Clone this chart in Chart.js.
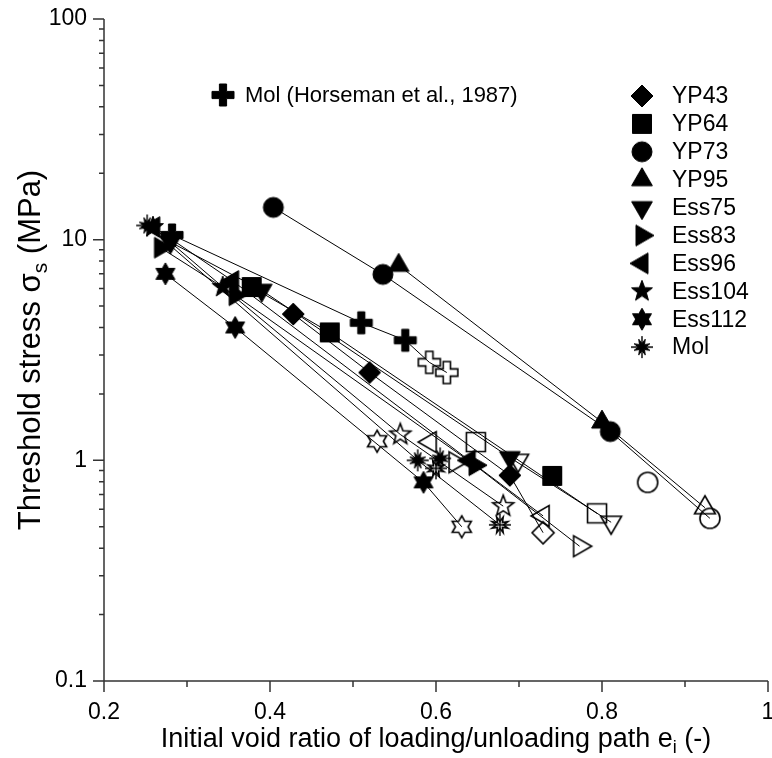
<!DOCTYPE html>
<html>
<head>
<meta charset="utf-8">
<title>Threshold stress vs initial void ratio</title>
<script src="https://cdn.jsdelivr.net/npm/chart.js@4/dist/chart.umd.min.js"></script>
<style>
  html, body { margin: 0; padding: 0; background: #fff; }
</style>
</head>
<body>
<canvas id="chart" width="772" height="758"></canvas>
<script>
// Series shown in the right-hand legend, in legend order
const seriesNames = ['YP43', 'YP64', 'YP73', 'YP95', 'Ess75', 'Ess83', 'Ess96', 'Ess104', 'Ess112', 'Mol'];
const seriesSymbols = ['diamond', 'square', 'circle', 'triUp', 'triDown', 'triRight', 'triLeft', 'star5', 'star6', 'burst'];

// e_i, sigma_s (MPa) and filled flag (1 = filled, 0 = open); null splits the connecting line
const eYP43 = [0.428, 0.52, 0.689, 0.729];
const sYP43 = [4.6, 2.5, 0.855, 0.47];
const fYP43 = [1, 1, 1, 0];

const eYP64 = [0.378, 0.472, 0.794, null, 0.648, null, 0.74];
const sYP64 = [6.1, 3.8, 0.575, null, 1.21, null, 0.85];
const fYP64 = [1, 1, 0, null, 0, null, 1];

const eYP73 = [0.404, 0.536, 0.81, 0.93, null, 0.855];
const sYP73 = [14, 6.96, 1.35, 0.546, null, 0.795];
const fYP73 = [1, 1, 1, 0, null, 0];

const eYP95 = [0.555, 0.80, 0.924];
const sYP95 = [7.65, 1.49, 0.61];
const fYP95 = [1, 1, 0];

const eEss75 = [0.28, 0.39, 0.689, 0.811, null, 0.699];
const sEss75 = [9.75, 5.9, 1.03, 0.524, null, 1.0];
const fEss75 = [1, 1, 1, 0, null, 0];

const eEss83 = [0.268, 0.358, 0.647, 0.773, null, 0.623];
const sEss83 = [9.2, 5.6, 0.95, 0.408, null, 0.98];
const fEss83 = [1, 1, 1, 0, null, 0];

const eEss96 = [0.26, 0.355, 0.64, 0.729, null, 0.593];
const sEss96 = [11.4, 6.5, 1.0, 0.56, null, 1.21];
const fEss96 = [1, 1, 1, 0, null, 0];

const eEss104 = [0.259, 0.343, 0.557, 0.681];
const sEss104 = [11.4, 6.1, 1.31, 0.62];
const fEss104 = [1, 1, 0, 0];

const eEss112 = [0.274, 0.358, 0.585, 0.631, null, 0.529];
const sEss112 = [7.0, 4.0, 0.795, 0.50, null, 1.22];
const fEss112 = [1, 1, 1, 0, null, 0];

const eMol = [0.252, 0.578, 0.677, null, 0.605, null, 0.60];
const sMol = [11.6, 1.0, 0.51, null, 1.02, null, 0.92];
const fMol = [1, 1, 0, null, 1, null, 0];

// Mol data from Horseman et al. (1987)
const eHorseman = [0.282, 0.51, 0.563, 0.592, 0.613];
const sHorseman = [10.5, 4.2, 3.5, 2.78, 2.5];
const fHorseman = [1, 1, 1, 0, 0];

// Axis ticks
const xMajorTicks = [0.2, 0.4, 0.6, 0.8, 1.0];
const xTickLabels = ['0.2', '0.4', '0.6', '0.8', '1'];
const yMajorTicks = [0.1, 1, 10, 100];
const yTickLabels = ['0.1', '1', '10', '100'];

const seriesE = [eYP43, eYP64, eYP73, eYP95, eEss75, eEss83, eEss96, eEss104, eEss112, eMol];
const seriesS = [sYP43, sYP64, sYP73, sYP95, sEss75, sEss83, sEss96, sEss104, sEss112, sMol];
const seriesF = [fYP43, fYP64, fYP73, fYP95, fEss75, fEss83, fEss96, fEss104, fEss112, fMol];

const FONT = '"Liberation Sans", Arial, Helvetica, sans-serif';

// Draw one marker symbol onto a small canvas, used as a Chart.js pointStyle
function makeMarker(kind, filled) {
    const c = document.createElement('canvas');
    c.width = 32;
    c.height = 32;
    const g = c.getContext('2d');
    g.translate(16, 16);
    g.strokeStyle = '#000';
    g.fillStyle = '#000';
    g.lineWidth = filled ? 1 : 1.6;

    const poly = pts => {
        pts.forEach(([px, py], i) => i ? g.lineTo(px, py) : g.moveTo(px, py));
        g.closePath();
    };
    const star = (n, ro, ri, rot) => {
        const pts = [];
        for (let i = 0; i < 2 * n; i++) {
            const a = rot + i * Math.PI / n;
            const r = i % 2 ? ri : ro;
            pts.push([r * Math.sin(a), -r * Math.cos(a)]);
        }
        poly(pts);
    };
    const triangle = rot => {
        const pts = [];
        for (let i = 0; i < 3; i++) {
            const a = rot + i * 2 * Math.PI / 3;
            pts.push([12 * Math.sin(a), -12 * Math.cos(a)]);
        }
        poly(pts);
    };

    g.beginPath();
    switch (kind) {
        case 'diamond': poly([[0, -11], [11, 0], [0, 11], [-11, 0]]); break;
        case 'square': poly([[-9.5, -9.5], [9.5, -9.5], [9.5, 9.5], [-9.5, 9.5]]); break;
        case 'circle': g.arc(0, 0, 10, 0, Math.PI * 2); break;
        case 'triUp': triangle(0); break;
        case 'triDown': triangle(Math.PI); break;
        case 'triRight': triangle(Math.PI / 2); break;
        case 'triLeft': triangle(-Math.PI / 2); break;
        case 'star5': star(5, 11, 4.6, 0); break;
        case 'star6': star(6, 11, 6.3, 0); break;
        case 'burst': star(8, 8.5, 3.5, Math.PI / 8); break;
        case 'plus': {
            const w = 3.6, l = 11;
            poly([[-w, -l], [w, -l], [w, -w], [l, -w], [l, w], [w, w], [w, l], [-w, l], [-w, w], [-l, w], [-l, -w], [-w, -w]]);
            break;
        }
    }
    if (filled) g.fill();
    g.stroke();

    if (kind === 'burst') {
        g.beginPath();
        g.lineWidth = 1.4;
        g.moveTo(-11, 0); g.lineTo(11, 0);
        g.moveTo(0, -11); g.lineTo(0, 11);
        g.stroke();
    }
    return c;
}

const markers = {};
seriesSymbols.concat(['plus']).forEach(k => {
    markers[k] = { f: makeMarker(k, true), o: makeMarker(k, false) };
});

function buildSeries(label, kind, e, s, f) {
    return {
        label: label,
        data: e.map((x, i) => ({ x: x, y: s[i] })),
        pointStyle: f.map(v => v === null ? false : (v ? markers[kind].f : markers[kind].o)),
        pointRadius: 10,
        showLine: true,
        spanGaps: false,
        borderColor: '#000',
        borderWidth: 1,
        backgroundColor: '#000'
    };
}

const datasets = seriesNames.map((name, i) =>
    buildSeries(name, seriesSymbols[i], seriesE[i], seriesS[i], seriesF[i]));
datasets.push(buildSeries('Mol (Horseman et al., 1987)', 'plus', eHorseman, sHorseman, fHorseman));

// Tick marks, axis lines, titles with subscripts, and the two legends
const decorPlugin = {
    id: 'decor',
    afterDraw(chart) {
        const { ctx, chartArea: a, scales: { x, y } } = chart;
        ctx.save();

        // axis lines and tick marks
        ctx.strokeStyle = '#333';
        ctx.lineWidth = 1.5;
        ctx.beginPath();
        ctx.moveTo(a.left, a.top);
        ctx.lineTo(a.left, a.bottom);
        ctx.lineTo(a.right, a.bottom);
        xMajorTicks.forEach((v, i) => {
            const px = x.getPixelForValue(v);
            ctx.moveTo(px, a.bottom);
            ctx.lineTo(px, a.bottom + 11);
            if (i < xMajorTicks.length - 1) {
                const pm = x.getPixelForValue((v + xMajorTicks[i + 1]) / 2);
                ctx.moveTo(pm, a.bottom);
                ctx.lineTo(pm, a.bottom + 6);
            }
        });
        yMajorTicks.forEach((v, i) => {
            const py = y.getPixelForValue(v);
            ctx.moveTo(a.left - 11, py);
            ctx.lineTo(a.left, py);
            if (i < yMajorTicks.length - 1) {
                for (let k = 2; k <= 9; k++) {
                    const pk = y.getPixelForValue(v * k);
                    ctx.moveTo(a.left - 5, pk);
                    ctx.lineTo(a.left, pk);
                }
            }
        });
        ctx.stroke();

        ctx.fillStyle = '#000';
        ctx.textBaseline = 'alphabetic';
        ctx.textAlign = 'left';

        const drawParts = (parts, cx, cy) => {
            let total = 0;
            parts.forEach(p => { ctx.font = p[1]; total += ctx.measureText(p[0]).width; });
            let px = cx - total / 2;
            parts.forEach(p => {
                ctx.font = p[1];
                ctx.fillText(p[0], px, cy + p[2]);
                px += ctx.measureText(p[0]).width;
            });
        };

        // x axis title with subscript i
        const xFont = '27px ' + FONT;
        const xSub = '18px ' + FONT;
        drawParts([['Initial void ratio of loading/unloading path e', xFont, 0], ['i', xSub, 6], [' (-)', xFont, 0]],
            (a.left + a.right) / 2, 747);

        // y axis title with subscript s
        const yFont = '31px ' + FONT;
        const ySub = '21px ' + FONT;
        ctx.save();
        ctx.translate(40, (a.top + a.bottom) / 2);
        ctx.rotate(-Math.PI / 2);
        drawParts([['Threshold stress \u03c3', yFont, 0], ['s', ySub, 7], [' (MPa)', yFont, 0]], 0, 0);
        ctx.restore();

        // right legend
        ctx.font = '23px ' + FONT;
        ctx.textBaseline = 'middle';
        seriesNames.forEach((name, i) => {
            const ly = 96 + i * 27.9;
            ctx.drawImage(markers[seriesSymbols[i]].f, 642 - 16, ly - 16);
            ctx.fillText(name, 672, ly + 1);
        });

        // Horseman legend
        ctx.font = '22px ' + FONT;
        ctx.drawImage(markers.plus.f, 223 - 16, 95 - 16);
        ctx.fillText('Mol (Horseman et al., 1987)', 245, 96);

        ctx.restore();
    }
};

new Chart(document.getElementById('chart'), {
    type: 'scatter',
    data: { datasets: datasets },
    options: {
        responsive: false,
        animation: false,
        events: [],
        layout: { autoPadding: false, padding: { top: 19, right: 4, left: 0, bottom: 0 } },
        plugins: {
            legend: { display: false },
            tooltip: { enabled: false }
        },
        scales: {
            x: {
                type: 'linear',
                min: 0.2,
                max: 1,
                grid: { display: false, drawTicks: false },
                border: { display: false },
                afterBuildTicks: scale => { scale.ticks = xMajorTicks.map(v => ({ value: v })); },
                afterFit: scale => { scale.height = 77; scale.paddingLeft = 0; scale.paddingRight = 0; },
                ticks: {
                    autoSkip: false,
                    maxRotation: 0,
                    padding: 18,
                    color: '#000',
                    font: { family: FONT, size: 23 },
                    callback: (v, i) => xTickLabels[i]
                }
            },
            y: {
                type: 'logarithmic',
                min: 0.1,
                max: 100,
                grid: { display: false, drawTicks: false },
                border: { display: false },
                afterBuildTicks: scale => { scale.ticks = yMajorTicks.map(v => ({ value: v })); },
                afterFit: scale => { scale.width = 104; scale.paddingTop = 0; scale.paddingBottom = 0; },
                ticks: {
                    autoSkip: false,
                    padding: 17,
                    color: '#000',
                    font: { family: FONT, size: 23 },
                    callback: (v, i) => yTickLabels[i]
                }
            }
        }
    },
    plugins: [decorPlugin]
});
</script>
</body>
</html>
